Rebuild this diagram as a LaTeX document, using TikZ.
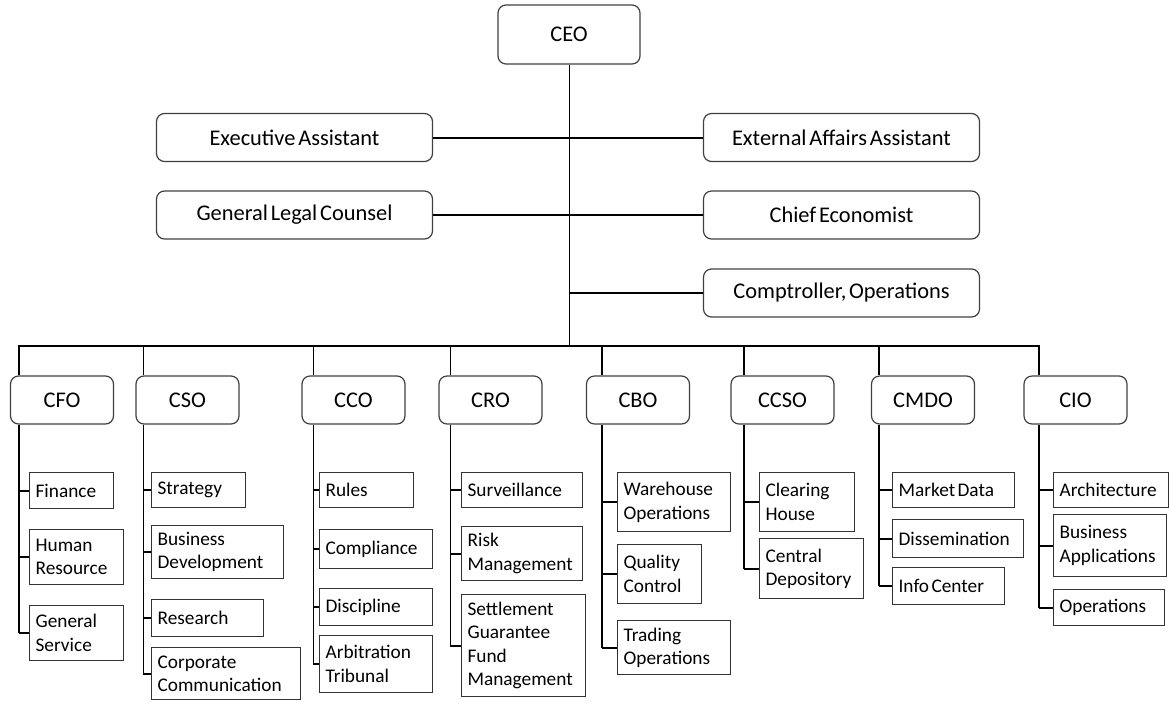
\documentclass[tikz,border=0pt]{standalone}
\usepackage{fontspec}
\setmainfont{Carlito}[WordSpace=0.55]
\usetikzlibrary{positioning,calc}
\tikzset{
  head/.style={draw=black!75, line width=1.2pt, rounded corners=8pt, align=center, inner sep=0pt, font=\fontsize{22.4}{27}\selectfont},
  staff/.style={head, minimum width=276pt, minimum height=48pt},
  chief/.style={head, minimum width=103pt, minimum height=48pt},
  unit/.style={draw=black!80, line width=1.2pt, anchor=north west, align=left, inner xsep=6pt, inner ysep=0pt, font=\fontsize{19.3}{23.5}\selectfont,
    execute at begin node={\spaceskip=0pt \xspaceskip=0pt}},
  link/.style={line width=2pt},
  thin link/.style={line width=1pt}
}

\begin{document}
\begin{tikzpicture}[x=1pt, y=-1pt]
\useasboundingbox (0,0) rectangle (1169,702);

% top level
\node[head, minimum width=142pt, minimum height=59pt] (ceo) at (569,34.5) {CEO};
\node[staff] (exec) at (294.5,137.5) {Executive Assistant};
\node[staff] (ext) at (841.5,137.5) {External Affairs Assistant};
\node[staff] (glc) at (294.5,215) {General Legal Counsel};
\node[staff] (econ) at (841.5,215) {Chief Economist};
\node[staff] (compt) at (841.5,293) {Comptroller, Operations};

\coordinate (hub) at (569,346);
\draw[thin link] (ceo.south) -- (hub);
\draw[link] (exec) -- (ext);
\draw[link] (glc) -- (econ);
\draw[link] (hub |- compt) -- (compt);

% chiefs
\node[chief] (cfo) at (62,400) {CFO};
\node[chief] (cso) at (187.5,400) {CSO};
\node[chief] (cco) at (353.5,400) {CCO};
\node[chief] (cro) at (490.5,400) {CRO};
\node[chief] (cbo) at (638,400) {CBO};
\node[chief] (ccso) at (782.5,400) {CCSO};
\node[chief] (cmdo) at (923,400) {CMDO};
\node[chief] (cio) at (1075.5,400) {CIO};

% drops from the bus
\coordinate (cfo-d) at (19,346);
\coordinate (cso-d) at (143,346);
\coordinate (cco-d) at (313,346);
\coordinate (cro-d) at (450,346);
\coordinate (cbo-d) at (602,346);
\coordinate (ccso-d) at (744,346);
\coordinate (cmdo-d) at (879,346);
\coordinate (cio-d) at (1039,346);

\draw[link] (cfo-d |- cfo.north) -- (cfo-d) -- (cio-d) -- (cio-d |- cio.north);
\foreach \m in {cbo,ccso,cmdo}
  \draw[link] (\m-d) -- (\m-d |- \m.north);
\foreach \m in {cso,cco,cro}
  \draw[thin link] (\m-d) -- (\m-d |- \m.north);

% CFO units
\node[unit, text width=72pt, minimum height=36pt] (fin) at (29,472) {Finance};
\node[unit, text width=82pt, minimum height=55pt] (hr) at (29,529) {Human\\Resource};
\node[unit, text width=82pt, minimum height=55pt] (gs) at (29,605) {General\\Service};

% CSO units
\node[unit, text width=82pt, minimum height=35pt] (str) at (151,472) {Strategy};
\node[unit, text width=120pt, minimum height=53pt] (bd) at (151,525) {Business\\Development};
\node[unit, text width=100pt, minimum height=37pt] (res) at (151,599) {Research};
\node[unit, text width=137pt, minimum height=52pt] (cc) at (151,647) {Corporate\\Communication};

% CCO units
\node[unit, text width=82pt, minimum height=35pt] (rul) at (319,472) {Rules};
\node[unit, text width=101pt, minimum height=39pt] (cmp) at (319,529) {Compliance};
\node[unit, text width=101pt, minimum height=37pt] (dis) at (319,588) {Discipline};
\node[unit, text width=101pt, minimum height=57pt] (arb) at (319,635) {Arbitration\\Tribunal};

% CRO units
\node[unit, text width=109pt, minimum height=35pt] (srv) at (461,472) {Surveillance};
\node[unit, text width=109pt, minimum height=54pt] (rsk) at (461,526) {Risk\\Management};
\node[unit, text width=112pt, minimum height=102pt] (sgf) at (461,594) {Settlement\\Guarantee\\Fund\\Management};

% CBO units
\node[unit, text width=101pt, minimum height=59pt] (who) at (617,472) {Warehouse\\Operations};
\node[unit, text width=72pt, minimum height=59pt] (qc) at (617,544) {Quality\\Control};
\node[unit, text width=101pt, minimum height=54pt] (tro) at (617,620) {Trading\\Operations};

% CCSO units
\node[unit, text width=83pt, minimum height=59pt] (clh) at (759,472) {Clearing\\House};
\node[unit, text width=92pt, minimum height=60pt] (cdp) at (759,538) {Central\\Depository};

% CMDO units
\node[unit, text width=110pt, minimum height=35pt] (mkd) at (892,472) {Market Data};
\node[unit, text width=119pt, minimum height=38pt] (dsm) at (892,519) {Dissemination};
\node[unit, text width=100pt, minimum height=37pt] (inf) at (892,567) {Info Center};

% CIO units
\node[unit, text width=103pt, minimum height=35pt] (arc) at (1053,472) {Architecture};
\node[unit, text width=101pt, minimum height=62pt] (bap) at (1053,514) {Business\\Applications};
\node[unit, text width=99pt, minimum height=36pt] (ops) at (1053,589) {Operations};

% spines
\draw[link] (cfo.south -| cfo-d) -- (cfo-d |- gs.west);
\draw[thin link] (cso.south -| cso-d) -- (cso-d |- cc.west);
\draw[thin link] (cco.south -| cco-d) -- (cco-d |- arb.west);
\draw[thin link] (cro.south -| cro-d) -- (cro-d |- sgf.west);
\draw[link] (cbo.south -| cbo-d) -- (cbo-d |- tro.west);
\draw[link] (ccso.south -| ccso-d) -- (ccso-d |- cdp.west);
\draw[link] (cmdo.south -| cmdo-d) -- (cmdo-d |- inf.west);
\draw[link] (cio.south -| cio-d) -- (cio-d |- ops.west);

% stubs
\foreach \c in {fin,hr,gs} \draw[link] (cfo-d |- \c.west) -- (\c.west);
\foreach \c in {str,bd,res,cc} \draw[link] (cso-d |- \c.west) -- (\c.west);
\foreach \c in {rul,cmp,dis,arb} \draw[link] (cco-d |- \c.west) -- (\c.west);
\foreach \c in {srv,rsk,sgf} \draw[link] (cro-d |- \c.west) -- (\c.west);
\foreach \c in {who,qc,tro} \draw[link] (cbo-d |- \c.west) -- (\c.west);
\foreach \c in {clh,cdp} \draw[link] (ccso-d |- \c.west) -- (\c.west);
\foreach \c in {mkd,dsm,inf} \draw[link] (cmdo-d |- \c.west) -- (\c.west);
\foreach \c in {arc,bap,ops} \draw[link] (cio-d |- \c.west) -- (\c.west);

\end{tikzpicture}
\end{document}
